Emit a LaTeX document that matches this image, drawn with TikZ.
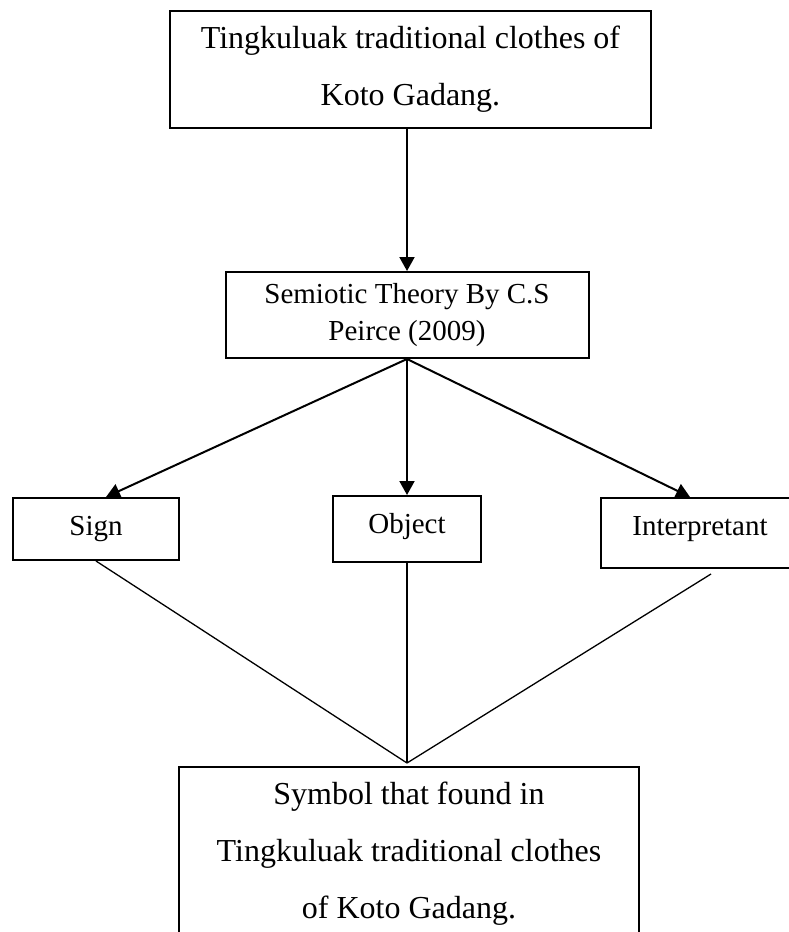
\documentclass[tikz,border=0pt]{standalone}
\usepackage{fontspec}
\setmainfont{Liberation Serif}
\usetikzlibrary{arrows.meta,shapes}
\tikzstyle{box}=[draw,line width=2pt,rectangle,inner sep=0pt,align=center,font=\fontsize{32}{57}\selectfont]
\tikzstyle{smallbox}=[draw,line width=2pt,rectangle,inner sep=0pt,anchor=north,text height=37pt,font=\fontsize{29}{35}\selectfont]
\tikzstyle{arrow}=[draw,line width=2pt,-{Triangle[width=15pt,length=14pt]}]
\tikzstyle{link}=[draw,line width=1.3pt,-]

\begin{document}
\begin{tikzpicture}[x=1pt,y=-1pt]
    \useasboundingbox (0,0) rectangle (789,932);
    % First the boxes, top to bottom
    \node[box,minimum width=481pt,minimum height=117pt] (top) at (410.5,69.5) {Tingkuluak traditional clothes of\\Koto Gadang.};
    \node[box,minimum width=363pt,minimum height=86pt,font=\fontsize{29}{37}\selectfont] (theory) at (407,315) {Semiotic Theory By C.S\\Peirce (2009)};
    \foreach \pos/\name/\boxw/\boxd/\txt in {{(96,497)/sign/166/25/Sign}, {(407,495)/object/148/28.5/Object}, {(700,497)/interp/198/33/Interpretant}}
        \node[smallbox,minimum width=\boxw pt,text depth=\boxd pt] (\name) at \pos {\txt};
    \node[box,minimum width=460pt,minimum height=173pt] (symbol) at (409,853.5) {Symbol that found in\\Tingkuluak traditional clothes\\of Koto Gadang.};
    \coordinate (meet) at ([yshift=3pt]symbol.north -| object.south);
    % Arrows from the theory
    \path[arrow] (top.south -| theory.north) -- (theory.north);
    \foreach \dest/\dx in {sign/10, object/0, interp/-10}
        \path[arrow] (theory.south) -- ([xshift=\dx pt]\dest.north);
    % Lines down to the symbol
    \foreach \source/\dx/\dy in {sign/0/0, object/0/0, interp/11/-5}
        \path[link] ([xshift=\dx pt,yshift=\dy pt]\source.south) -- (meet);
\end{tikzpicture}
\end{document}
